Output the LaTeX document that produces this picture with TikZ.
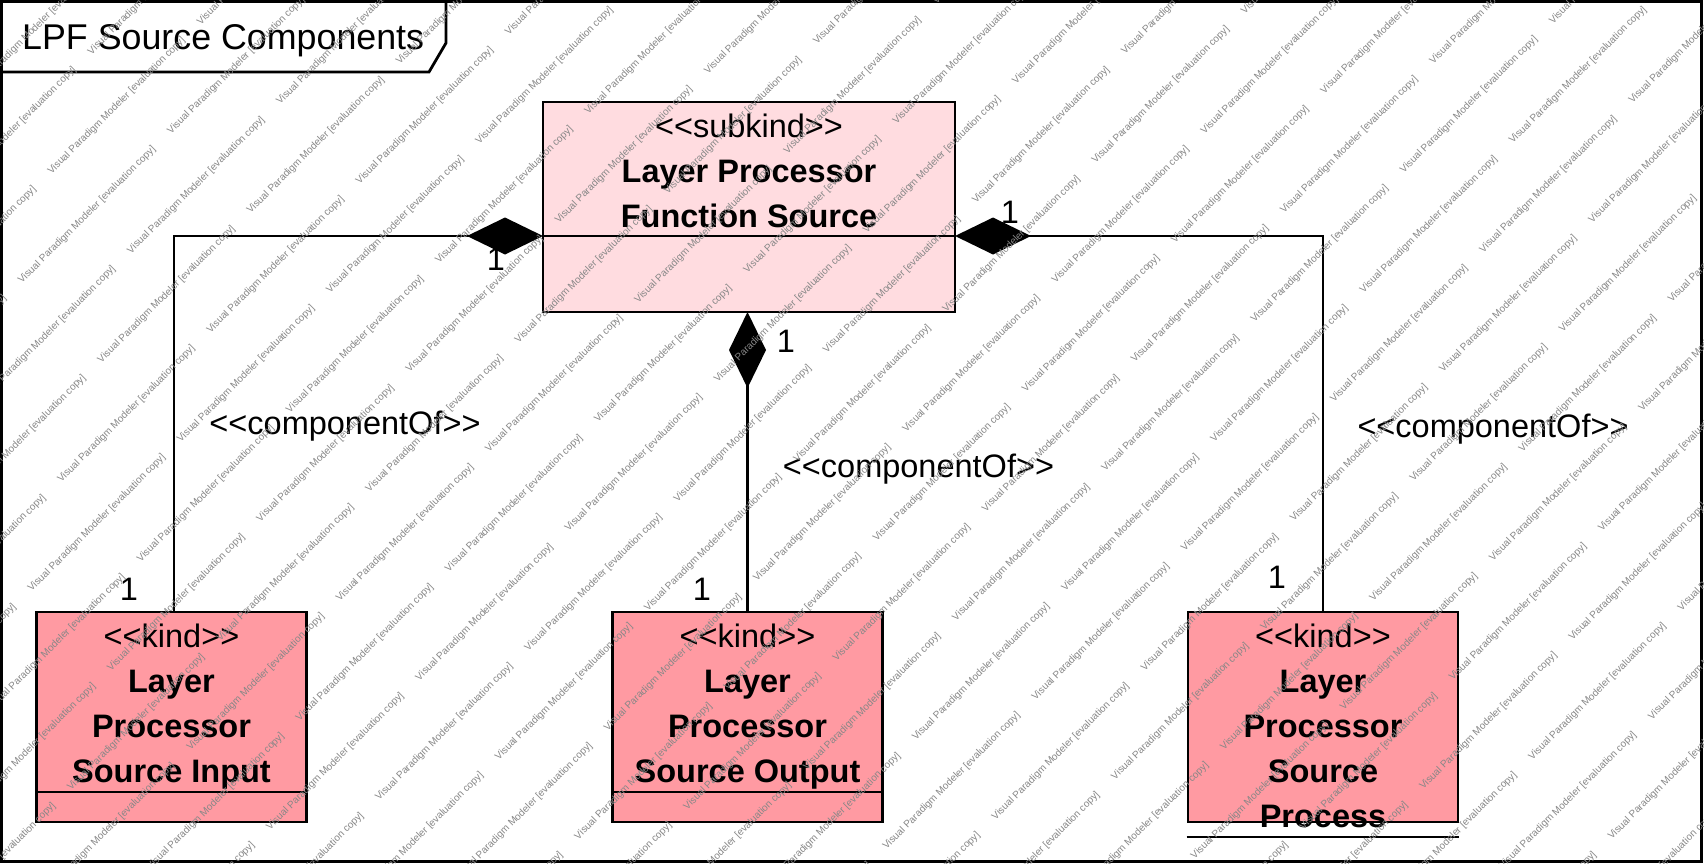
\documentclass[tikz,border=0pt]{standalone}
\usepackage{fontspec}
\setmainfont{Liberation Sans}
\usetikzlibrary{arrows.meta}
\definecolor{subkindfill}{RGB}{255,220,224}
\definecolor{kindfill}{RGB}{255,154,162}
\definecolor{wmgray}{RGB}{135,135,135}
\newcommand\ltlt{<\kern0pt<}
\newcommand\gtgt{>\kern0pt>}
\begin{document}
\begin{tikzpicture}[x=1pt,y=-1pt,
  classbox/.style={draw=black,line width=2.8pt,inner sep=0pt,outer sep=0pt,minimum width=270pt,minimum height=210pt},
  subkindbox/.style={classbox,fill=subkindfill,minimum width=412pt},
  kindbox/.style={classbox,fill=kindfill},
  divider/.style={line width=2.6pt},
  stereo/.style={font=\fontsize{32.5}{39}\selectfont,inner sep=0pt,anchor=base},
  cname/.style={font=\fontsize{32.5}{39}\selectfont\bfseries,inner sep=0pt,anchor=base},
  lbl/.style={font=\fontsize{32.5}{39}\selectfont,inner sep=0pt,anchor=base},
  assoc/.style={line width=2.4pt,-{Diamond[length=76pt,width=37pt]}},
  wm/.style={font=\fontsize{10}{12}\selectfont,text=wmgray,inner sep=0pt,anchor=base west,rotate=45},
]
\useasboundingbox (0,0) rectangle (1704,864);
\fill[white] (0,0) rectangle (1704,864);
% frame and title tab
\draw[line width=3pt] (1.5,1.5) rectangle (1701,861.5);
\draw[line width=2.8pt] (1.5,72) -- (429,72) -- (446,43) -- (446,1.5);
\node[anchor=base west,font=\fontsize{35.8}{42}\selectfont,inner sep=0pt] (title) at (22,50) {LPF Source Components};
% classes
\node[subkindbox] (S) at (749,207) {};
\node[kindbox] (B1) at (171.5,717) {};
\node[kindbox] (B2) at (747.5,717) {};
\node[kindbox] (B3) at (1323,717) {};
\coordinate (divS) at (749,236);
\coordinate (divK) at (0,792);
\coordinate (divP) at (0,837);
\draw[divider] (S.west |- divS) -- (S.east |- divS);
\draw[divider] (B1.west |- divK) -- (B1.east |- divK);
\draw[divider] (B2.west |- divK) -- (B2.east |- divK);
\draw[divider] ([xshift=-1.4pt]B3.west |- divP) -- ([xshift=1.4pt]B3.east |- divP);
% multiplicities
\node[lbl] (m1) at (496,270) {1};
\node[lbl] (m2) at (129,600) {1};
\node[lbl] (m3) at (786,352) {1};
\node[lbl] (m4) at (702,600) {1};
\node[lbl] (m5) at (1010,223) {1};
\node[lbl] (m6) at (1277,588) {1};
% connectors
\draw[assoc] ([xshift=2.5pt]B1.north) |- (S.west |- divS);
\draw[assoc] (B2.north) -- (B2.north |- S.south);
\draw[assoc] (B3.north) |- (S.east |- divS);
% connector labels
\node[lbl] (c1) at (345,434) {\ltlt componentOf\gtgt};
\node[lbl] (c2) at (918.5,477) {\ltlt componentOf\gtgt};
\node[lbl] (c3) at (1493,437) {\ltlt componentOf\gtgt};
% class texts
\node[stereo] (s0) at (749,137) {\ltlt subkind\gtgt};
\node[cname] (s1) at (749,182) {Layer Processor};
\node[cname] (s2) at (749,227) {Function Source};
\node[stereo] (a0) at (171.5,647) {\ltlt kind\gtgt};
\node[cname] (a1) at (171.5,692) {Layer};
\node[cname] (a2) at (171.5,737) {Processor};
\node[cname] (a3) at (171.5,782) {Source Input};
\node[stereo] (b0) at (747.5,647) {\ltlt kind\gtgt};
\node[cname] (b1) at (747.5,692) {Layer};
\node[cname] (b2) at (747.5,737) {Processor};
\node[cname] (b3) at (747.5,782) {Source Output};
\node[stereo] (p0) at (1323,647) {\ltlt kind\gtgt};
\node[cname] (p1) at (1323,692) {Layer};
\node[cname] (p2) at (1323,737) {Processor};
\node[cname] (p3) at (1323,782) {Source};
\node[cname] (p4) at (1323,827) {Process};
% watermark
\begin{scope}
\clip (0,0) rectangle (1704,864);
\foreach \k in {-15,...,21}{
  \foreach \n in {-5,...,6}{
    \pgfmathsetmacro\wu{(mod(abs(\k),2)==1 ? -98 : 0) + 211*\n}
    \pgfmathsetmacro\wv{56.2*\k}
    \pgfmathsetmacro\wx{598+(\wu+\wv)*0.70711}
    \pgfmathsetmacro\wy{423+(\wv-\wu)*0.70711}
    \pgfmathparse{(\wx>-150) && (\wx<1704) && (\wy>0) && (\wy<1000) ? 1 : 0}
    \ifdim\pgfmathresult pt>0.5pt
      \node[wm] (wm\k x\n) at (\wx,\wy) {Visual Paradigm Modeler [evaluation copy]};
    \fi
  }
}
\end{scope}
\end{tikzpicture}
\end{document}
